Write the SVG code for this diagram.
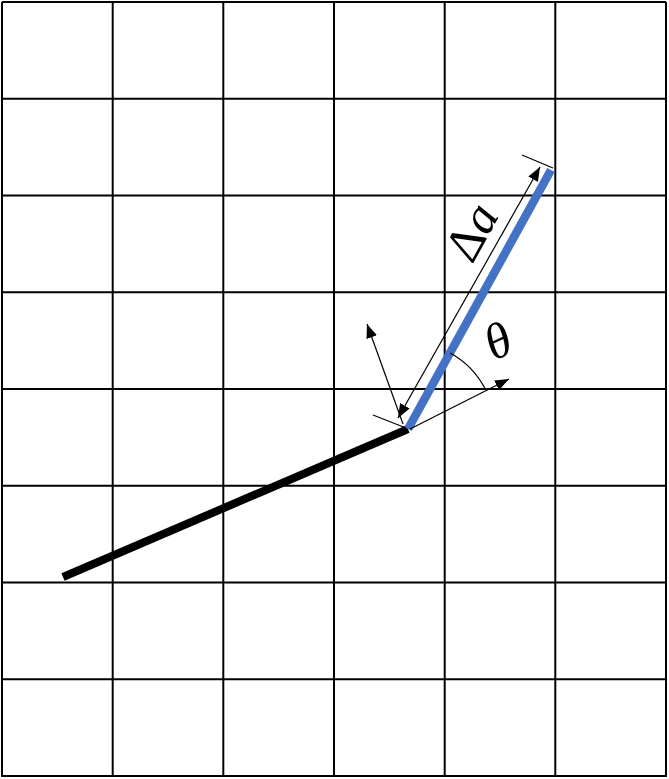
<svg xmlns="http://www.w3.org/2000/svg" width="669" height="779" viewBox="0 0 669 779">
<style>
.grid line{stroke:#000;stroke-width:2}
.thin{stroke:#000;stroke-width:1.2;fill:none}
.lbl{font-family:"Liberation Serif","Times New Roman",serif;fill:#000}
</style>
<defs>
<marker id="ah" viewBox="0 0 14 11" refX="14" refY="5.5" markerWidth="14" markerHeight="11" markerUnits="userSpaceOnUse" orient="auto-start-reverse">
<path d="M0,0 L14,5.5 L0,11 Z" fill="#000"/>
</marker>
</defs>
<rect width="669" height="779" fill="#fff"/>
<g class="grid" id="grid">
<line x1="2" y1="2" x2="2" y2="777"/>
<line x1="112.7" y1="2" x2="112.7" y2="777"/>
<line x1="223.3" y1="2" x2="223.3" y2="777"/>
<line x1="334" y1="2" x2="334" y2="777"/>
<line x1="444.7" y1="2" x2="444.7" y2="777"/>
<line x1="555.3" y1="2" x2="555.3" y2="777"/>
<line x1="666" y1="2" x2="666" y2="777"/>
<line x1="2" y1="2" x2="666" y2="2"/>
<line x1="2" y1="98.8" x2="666" y2="98.8"/>
<line x1="2" y1="195.5" x2="666" y2="195.5"/>
<line x1="2" y1="292.3" x2="666" y2="292.3"/>
<line x1="2" y1="389" x2="666" y2="389"/>
<line x1="2" y1="485.8" x2="666" y2="485.8"/>
<line x1="2" y1="582.5" x2="666" y2="582.5"/>
<line x1="2" y1="679.3" x2="666" y2="679.3"/>
<line x1="2" y1="776" x2="666" y2="776"/>
</g>
<g id="segment-prev">
<line x1="63" y1="577" x2="408" y2="429" stroke="#000" stroke-width="8"/>
</g>
<g id="segment-new">
<line x1="408" y1="429" x2="551" y2="170" stroke="#4472C4" stroke-width="8.5"/>
</g>
<g id="connectors">
<line class="thin" x1="410" y1="429" x2="509" y2="379" marker-end="url(#ah)"/>
<line class="thin" x1="403" y1="424" x2="367" y2="324" marker-end="url(#ah)"/>
<line class="thin" x1="398" y1="418" x2="540" y2="167" marker-start="url(#ah)" marker-end="url(#ah)"/>
<line class="thin" x1="373" y1="415" x2="406" y2="428"/>
<line class="thin" x1="522" y1="155" x2="553" y2="168"/>
<path class="thin" d="M450.2,352.9 A87,87 0 0 1 485.7,389.8"/>
</g>
<g id="label-da">
<text class="lbl" font-size="50" text-anchor="middle" transform="translate(486,240) rotate(-61)">Δ<tspan font-style="italic">a</tspan></text>
</g>
<g id="label-theta">
<text class="lbl" font-size="50" font-style="italic" text-anchor="middle" transform="translate(505,356) rotate(-25)">θ</text>
</g>
</svg>
